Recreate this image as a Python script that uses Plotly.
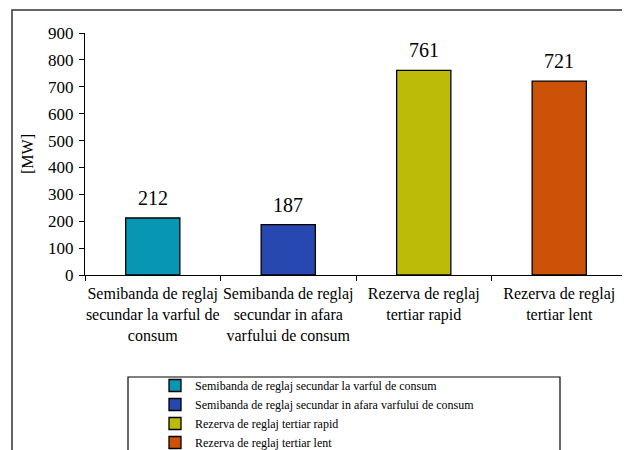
import plotly.graph_objects as go

categories = [
    "Semibanda de reglaj<br>secundar la varful de<br>consum",
    "Semibanda de reglaj<br>secundar in afara<br>varfului de consum",
    "Rezerva de reglaj<br>tertiar rapid",
    "Rezerva de reglaj<br>tertiar lent",
]
legend_names = [
    "Semibanda de reglaj secundar la varful de consum",
    "Semibanda de reglaj secundar in afara varfului de consum",
    "Rezerva de reglaj tertiar rapid",
    "Rezerva de reglaj tertiar lent",
]
values = [212, 187, 761, 721]
colors = ["#0796b4", "#2748b0", "#bcbc08", "#cc5208"]
y_ticks = [0, 100, 200, 300, 400, 500, 600, 700, 800, 900]

# page has an 8px body margin; figure sized to fit the 630x450 window
OFF = 8
W, H = 630 - OFF, 450 - OFF
ML, MR, MT, MB = 85 - OFF, 3, 33 - OFF, 175
PW, PH = W - ML - MR, H - MT - MB

def px(x):  # reference page pixel -> paper x
    return (x - OFF - ML) / PW

def py(y):  # reference page pixel -> paper y
    return (H - MB - (y - OFF)) / PH

FONT = "Liberation Serif"

fig = go.Figure()
for cat, name, v, c in zip(categories, legend_names, values, colors):
    fig.add_trace(go.Bar(
        x=[cat], y=[v], name=name, width=0.4,
        marker=dict(color=c, line=dict(color="#000000", width=1.3)),
    ))
    fig.add_annotation(x=cat, y=v, text=str(v), showarrow=False,
                       yanchor="bottom", yshift=7,
                       font=dict(family=FONT, size=20, color="#000000"))

fig.update_layout(
    width=W, height=H,
    margin=dict(l=ML, r=MR, t=MT, b=MB, autoexpand=False),
    paper_bgcolor="white", plot_bgcolor="white",
    barmode="overlay",
    font=dict(family=FONT, color="#000000"),
    showlegend=True,
    legend=dict(
        x=px(155), y=py(371), xanchor="left", yanchor="top",
        font=dict(family=FONT, size=12, color="#000000"),
        bgcolor="rgba(0,0,0,0)", borderwidth=0,
        itemwidth=30, tracegroupgap=0,
    ),
    xaxis=dict(
        type="category", categoryorder="array", categoryarray=categories,
        showline=True, linecolor="#000000", linewidth=1.3,
        ticks="outside", tickson="boundaries", ticklen=5, tickcolor="#000000",
        tickfont=dict(family=FONT, size=16, color="#000000"),
        tickangle=0, automargin=False, ticklabelstandoff=4,
        showgrid=False, zeroline=False,
    ),
    yaxis=dict(
        range=[0, 900], tickvals=y_ticks, automargin=False,
        showline=True, linecolor="#000000", linewidth=1.3,
        ticks="outside", ticklen=5, tickcolor="#000000",
        tickfont=dict(family=FONT, size=17, color="#000000"),
        ticklabelstandoff=2,
        showgrid=False, zeroline=False,
        title=dict(text="[MW]", font=dict(family=FONT, size=16, color="#000000"), standoff=10),
    ),
)

# outer frame and legend box
shapes = [
    dict(type="rect", xref="paper", yref="paper", x0=px(12), x1=px(660), y0=py(10), y1=py(480),
         line=dict(color="#333333", width=1.5), fillcolor="rgba(0,0,0,0)", layer="below"),
    dict(type="rect", xref="paper", yref="paper", x0=px(128), x1=px(560), y0=py(377), y1=py(480),
         line=dict(color="#000000", width=1.2), fillcolor="rgba(0,0,0,0)"),
]
fig.update_layout(shapes=shapes)

fig.write_html("out.html")
